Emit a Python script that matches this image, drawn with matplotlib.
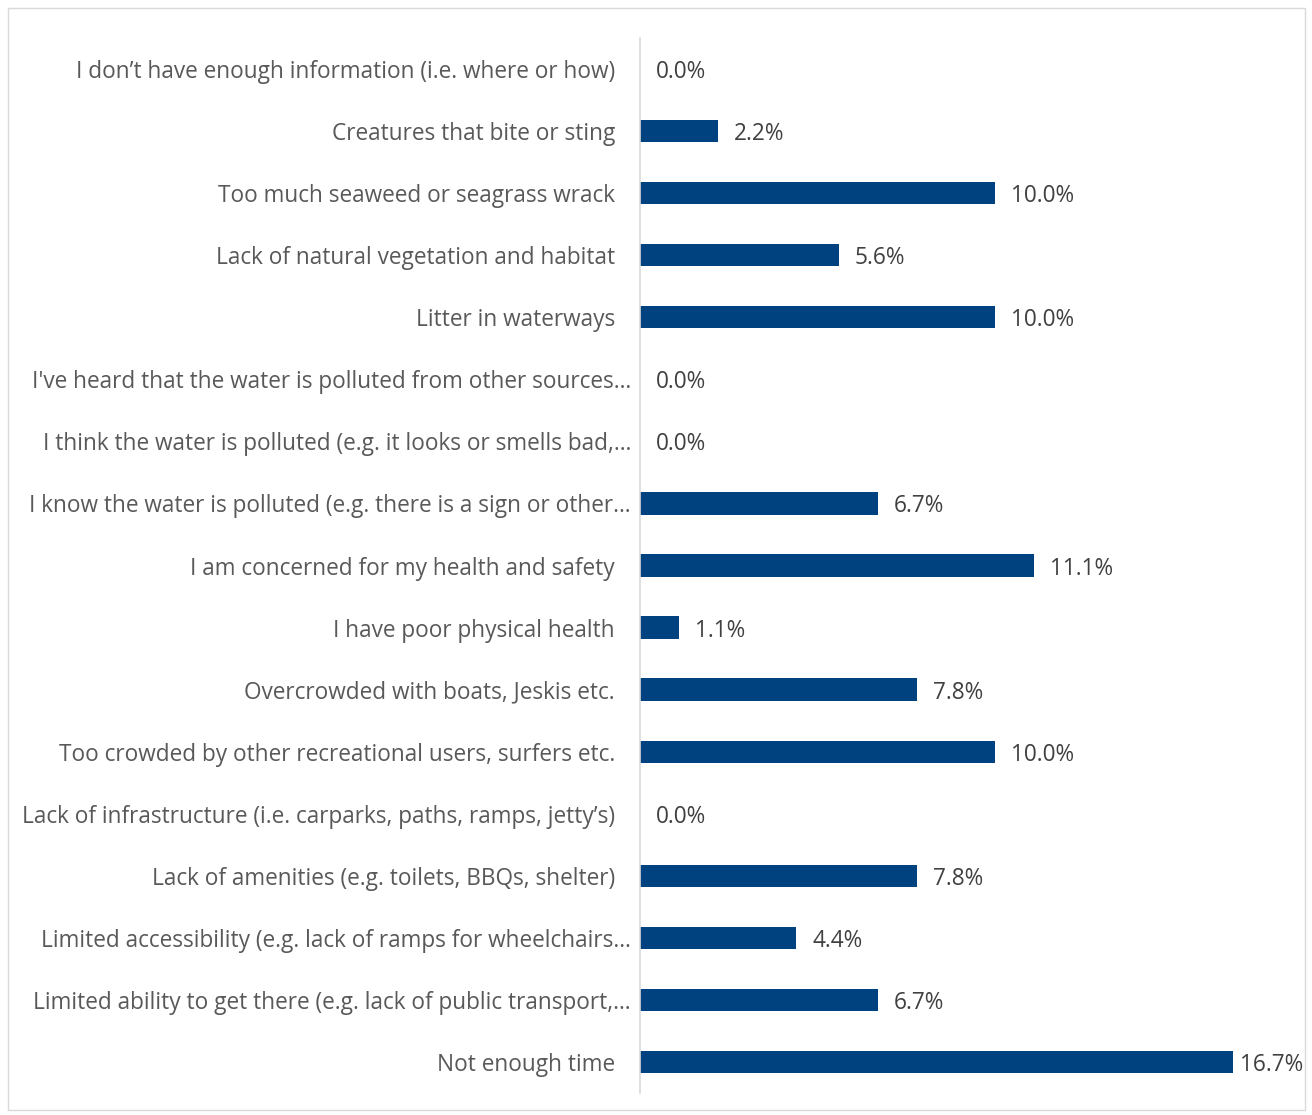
import matplotlib
matplotlib.use('Agg')
from matplotlib import pyplot as plt
from matplotlib.patches import Rectangle
from matplotlib.transforms import ScaledTranslation

# categories, top to bottom as shown
labels = [
    "I don\u2019t have enough information (i.e. where or how)",
    "Creatures that bite or sting",
    "Too much seaweed or seagrass wrack",
    "Lack of natural vegetation and habitat",
    "Litter in waterways",
    "I've heard that the water is polluted from other sources\u2026",
    "I think the water is polluted (e.g. it looks or smells bad,\u2026",
    "I know the water is polluted (e.g. there is a sign or other\u2026",
    "I am concerned for my health and safety",
    "I have poor physical health",
    "Overcrowded with boats, Jeskis etc.",
    "Too crowded by other recreational users, surfers etc.",
    "Lack of infrastructure (i.e. carparks, paths, ramps, jetty\u2019s)",
    "Lack of amenities (e.g. toilets, BBQs, shelter)",
    "Limited accessibility (e.g. lack of ramps for wheelchairs\u2026",
    "Limited ability to get there (e.g. lack of public transport,\u2026",
    "Not enough time",
]
values = [0.0, 2.2, 10.0, 5.6, 10.0, 0.0, 0.0, 6.7, 11.1, 1.1, 7.8, 10.0, 0.0, 7.8, 4.4, 6.7, 16.7]

plt.rcParams['font.family'] = ['Open Sans', 'DejaVu Sans']
text_col = '#595959'
bar_col = '#00427F'
xmax = 18

fig = plt.figure(figsize=(13.12, 11.15), dpi=100)
ax = fig.add_axes([0.4878, 0.0197, 0.975 - 0.4878, 0.9659 - 0.0197])

ypos = list(range(len(labels)))
ax.barh(ypos, values, height=0.36, color=bar_col)
for y, v in zip(ypos, values):
    # labels near the right edge get pulled in, like Excel does
    off = 5 if v > xmax - 2 else 11.5
    ax.annotate(f'{v:.1f}%', (v, y), xytext=(off, 0), textcoords='offset points',
                va='center_baseline', ha='left', fontsize=16.3, color='#404040')

ax.set_yticks(ypos)
ax.set_yticklabels(labels, fontsize=16.3, color=text_col, va='center_baseline')
ax.tick_params(axis='y', length=0, pad=18)
# truncated labels run closer to the axis in the original
shift = ScaledTranslation(16 / 100, 0, fig.dpi_scale_trans)
for lbl in ax.get_yticklabels():
    if lbl.get_text().endswith('\u2026'):
        lbl.set_transform(lbl.get_transform() + shift)
ax.set_ylim(len(labels) - 0.5, -0.5)
ax.set_xlim(0, xmax)
ax.set_xticks([])
for s in ['top', 'right', 'bottom']:
    ax.spines[s].set_visible(False)
ax.spines['left'].set_color('#d9d9d9')
ax.spines['left'].set_linewidth(1.2)

# chart border
fig.patches.append(Rectangle((8 / 1312, 5 / 1115), 1297 / 1312, 1102 / 1115,
                             transform=fig.transFigure, fill=False,
                             edgecolor='#d9d9d9', linewidth=1))

plt.savefig('out.png', dpi=100)
